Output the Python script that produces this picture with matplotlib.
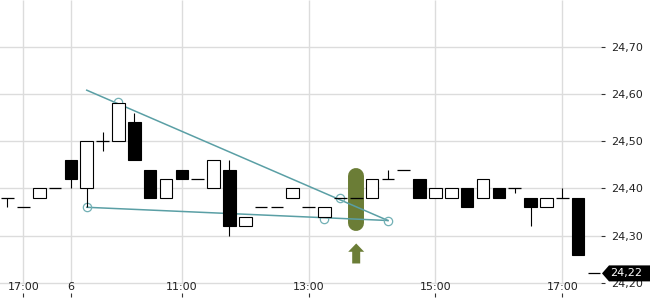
import matplotlib
matplotlib.use("Agg")
import matplotlib.pyplot as plt
from matplotlib.patches import Rectangle, Polygon
from matplotlib.ticker import FuncFormatter
import matplotlib.transforms as mtransforms

plt.rcParams['font.family'] = ['DejaVu Sans']

# 15-minute candles, oldest first
opens  = [24.38, 24.36, 24.38, 24.40, 24.46, 24.40, 24.50, 24.50, 24.54, 24.44,
          24.38, 24.44, 24.42, 24.40, 24.44, 24.32, 24.36, 24.36, 24.38, 24.36,
          24.34, 24.38, 24.38, 24.38, 24.42, 24.44, 24.42, 24.38, 24.38, 24.40,
          24.38, 24.40, 24.40, 24.38, 24.36, 24.38, 24.38, 24.22]
highs  = [24.38, 24.36, 24.40, 24.40, 24.46, 24.50, 24.52, 24.58, 24.56, 24.44,
          24.42, 24.44, 24.42, 24.46, 24.46, 24.34, 24.36, 24.36, 24.40, 24.36,
          24.36, 24.38, 24.38, 24.42, 24.44, 24.44, 24.42, 24.40, 24.40, 24.40,
          24.42, 24.40, 24.40, 24.38, 24.38, 24.40, 24.38, 24.22]
lows   = [24.36, 24.36, 24.38, 24.40, 24.40, 24.36, 24.48, 24.50, 24.46, 24.38,
          24.38, 24.42, 24.42, 24.40, 24.30, 24.32, 24.36, 24.36, 24.38, 24.36,
          24.34, 24.38, 24.38, 24.38, 24.42, 24.44, 24.38, 24.38, 24.38, 24.36,
          24.38, 24.38, 24.39, 24.32, 24.36, 24.38, 24.26, 24.22]
closes = [24.38, 24.36, 24.40, 24.40, 24.42, 24.50, 24.50, 24.58, 24.46, 24.38,
          24.42, 24.42, 24.42, 24.46, 24.32, 24.34, 24.36, 24.36, 24.40, 24.36,
          24.36, 24.38, 24.38, 24.42, 24.42, 24.44, 24.38, 24.40, 24.40, 24.36,
          24.42, 24.38, 24.40, 24.36, 24.38, 24.38, 24.26, 24.22]

# time axis labels (candle index -> label)
xtick_idx = [1, 4, 11, 19, 27, 35]
xtick_labels = ["17:00", "6", "11:00", "13:00", "15:00", "17:00"]
yticks = [24.20, 24.30, 24.40, 24.50, 24.60, 24.70]

# pattern drawing: upper and lower trend lines plus touch points
upper_line_x = [5, 24]
upper_line_y = [24.608, 24.332]
lower_line_x = [5, 24]
lower_line_y = [24.36, 24.332]
touch_x = [5, 7, 20, 21, 24]
touch_y = [24.36, 24.584, 24.336, 24.38, 24.332]

# signal candle
signal_idx = 22
signal_top = 24.427
signal_bottom = 24.327
arrow_base = 24.241

teal = "#5a9fa5"
olive = "#6b7d36"
grid_c = "#dcdcdc"

fig = plt.figure(figsize=(6.5, 3), dpi=100)
ax = fig.add_axes([0, 0.01, 601 / 650, 0.99])
ax.set_xlim(-0.473, 37.445)
ax.set_ylim(24.170, 24.799)

for s in ax.spines.values():
    s.set_visible(False)

# grid
for y in yticks:
    ax.axhline(y, color=grid_c, lw=1.0, zorder=0)
ax.vlines(xtick_idx, yticks[0], 24.799, color=grid_c, lw=1.0, zorder=0)

# y axis on the right
ax.yaxis.tick_right()
ax.set_yticks(yticks)
ax.yaxis.set_major_formatter(FuncFormatter(lambda v, p: f"{v:.2f}".replace(".", ",")))
ax.tick_params(axis="y", direction="out", length=3, width=0.8, color="#333333",
               pad=4, labelsize=8, labelcolor="#222222")

# x ticks inside, labels as text
ax.set_xticks(xtick_idx)
ax.tick_params(axis="x", direction="in", length=3, width=0.8, color="#333333",
               labelbottom=False)
xtr = ax.get_xaxis_transform()
for xi, lab in zip(xtick_idx, xtick_labels):
    ax.text(xi, 0.034, lab, transform=xtr, ha="center", va="center",
            fontsize=8, color="#222222")

# signal highlight
ax.plot([signal_idx, signal_idx], [signal_bottom, signal_top], color=olive,
        lw=11.5, solid_capstyle="round", zorder=1)

# trend lines and touch points
ax.plot(upper_line_x, upper_line_y, color=teal, lw=1.1, zorder=2)
ax.plot(lower_line_x, lower_line_y, color=teal, lw=1.1, zorder=2)
ax.plot(touch_x, touch_y, ls="none", marker="o", ms=6, mfc="none",
        mec="#72b0b5", mew=0.9, zorder=2)

# candles
w = 0.8
for i, (o, h, l, c) in enumerate(zip(opens, highs, lows, closes)):
    ax.vlines(i, l, h, color="black", lw=0.8, zorder=3)
    if o == c:
        ax.hlines(o, i - w / 2, i + w / 2, color="black", lw=0.9, zorder=4)
    else:
        fc = "white" if c > o else "black"
        ax.add_patch(Rectangle((i - w / 2, min(o, c)), w, abs(c - o), fc=fc,
                               ec="black", lw=0.8, zorder=4))

# up arrow under the signal candle (shape in pixels)
arrow_px = [(0, 20), (-8, 11.7), (-4, 11.7), (-4, 0), (4, 0), (4, 11.7), (8, 11.7)]
arr_tr = fig.dpi_scale_trans + mtransforms.ScaledTranslation(signal_idx, arrow_base, ax.transData)
ax.add_patch(Polygon([(x / 100, y / 100) for x, y in arrow_px], closed=True,
                     fc=olive, ec="none", transform=arr_tr, zorder=3))

# last price tag
last = closes[-1]
tag_px = [(1, 0), (8, 8), (60, 8), (60, -8), (8, -8)]
tag_tr = fig.dpi_scale_trans + mtransforms.ScaledTranslation(1.0, last, ax.get_yaxis_transform())
ax.add_patch(Polygon([(x / 100, y / 100) for x, y in tag_px], closed=True,
                     fc="black", ec="none", transform=tag_tr, zorder=10, clip_on=False))
ax.annotate(f"{last:.2f}".replace(".", ","), xy=(1.0, last),
            xycoords=ax.get_yaxis_transform(), xytext=(25 * 0.72, 0),
            textcoords="offset points", ha="center", va="center",
            fontsize=8, color="white", zorder=11, annotation_clip=False)

fig.savefig("out.png", dpi=100)
